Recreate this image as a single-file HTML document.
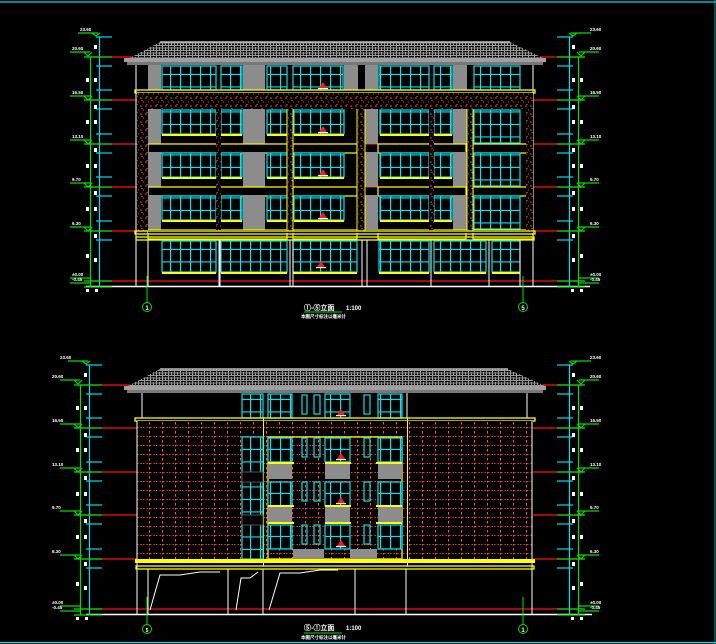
<!DOCTYPE html>
<html><head><meta charset="utf-8"><style>
html,body{margin:0;padding:0;background:#000;}
svg{display:block;}
text{font-family:"Liberation Sans",sans-serif;fill:#fff;font-weight:bold;}
</style></head><body>
<svg width="716" height="644" viewBox="0 0 716 644" xmlns="http://www.w3.org/2000/svg">
<defs>
<pattern id="tile" width="6" height="5" patternUnits="userSpaceOnUse">
<rect width="6" height="5" fill="#000"/>
<path d="M0 0.5H6M0.5 0V5M3.5 2V5M0 3H6" stroke="#9a9a9a" stroke-width="1"/>
</pattern>
<pattern id="brick" width="10" height="8" patternUnits="userSpaceOnUse">
<rect width="10" height="8" fill="#000"/>
<path d="M0 2H2M5 2H7M3 6H4M8 6H9" stroke="#ff3a1a" stroke-width="1"/>
<path d="M2 4V5M7 0V1" stroke="#ff8030" stroke-width="1"/>
</pattern>
<pattern id="grid" width="13" height="9" patternUnits="userSpaceOnUse">
<rect width="13" height="9" fill="#000"/>
<path d="M0 4.5H13" stroke="#ff3010" stroke-width="1" stroke-dasharray="1.5 2"/>
<path d="M6.5 0V9" stroke="#ff5a20" stroke-width="1" stroke-dasharray="1.5 2.5"/>
</pattern>
<pattern id="win" width="10" height="12.5" patternUnits="userSpaceOnUse">
<rect width="10" height="12.5" fill="#000"/>
<path d="M0.5 0V12.5M0 12H10" stroke="#00e6f0" stroke-width="1.3"/>
</pattern>
<g id="tri"><path d="M-4 2L0 -4L4 2Z" fill="#ff1a1a"/><rect x="-5" y="2" width="10" height="1.2" fill="#fff"/></g>
<g id="dim">
<line x1="90.5" y1="57" x2="90.5" y2="287" stroke="#00e000" stroke-width="1.2"/>
<line x1="99.5" y1="37" x2="99.5" y2="287" stroke="#00e0f0" stroke-width="1.2"/>
<g stroke="#00e0f0" stroke-width="1.2">
<line x1="96" y1="37" x2="112" y2="37"/><line x1="96" y1="66" x2="112" y2="66"/>
<line x1="96" y1="90" x2="112" y2="90"/><line x1="96" y1="109" x2="112" y2="109"/>
<line x1="96" y1="134" x2="112" y2="134"/><line x1="96" y1="153" x2="112" y2="153"/>
<line x1="96" y1="177" x2="112" y2="177"/><line x1="96" y1="196" x2="112" y2="196"/>
<line x1="96" y1="221" x2="112" y2="221"/><line x1="96" y1="240" x2="112" y2="240"/>
</g>
<g stroke="#00e000" stroke-width="1.2" fill="none">
<path d="M78 33H98M92 33l4 3l4-3"/>
<path d="M70 52H90M84 52l4 4l4-4"/><line x1="84" y1="57" x2="112" y2="57"/>
<path d="M70 96H90M84 96l4 4l4-4"/><line x1="84" y1="100" x2="112" y2="100"/>
<path d="M70 140H90M84 140l4 4l4-4"/><line x1="84" y1="144" x2="112" y2="144"/>
<path d="M70 183H90M84 183l4 4l4-4"/><line x1="84" y1="187" x2="112" y2="187"/>
<path d="M70 227H90M84 227l4 4l4-4"/><line x1="84" y1="231" x2="112" y2="231"/>
<path d="M70 278H90M70 283H90"/><line x1="84" y1="281" x2="112" y2="281"/><line x1="84" y1="287" x2="112" y2="287"/>
</g>
<g fill="#fff">
<rect x="94" y="45" width="3" height="4"/><rect x="86" y="78" width="3" height="4"/><rect x="94" y="78" width="3" height="4"/>
<rect x="94" y="105" width="3" height="4"/><rect x="86" y="120" width="3" height="4"/><rect x="94" y="120" width="3" height="4"/>
<rect x="94" y="148" width="3" height="4"/><rect x="86" y="164" width="3" height="4"/><rect x="94" y="164" width="3" height="4"/>
<rect x="94" y="191" width="3" height="4"/><rect x="86" y="207" width="3" height="4"/><rect x="94" y="207" width="3" height="4"/>
<rect x="94" y="234" width="3" height="4"/><rect x="86" y="254" width="3" height="4"/><rect x="94" y="258" width="3" height="4"/>
<rect x="86" y="289" width="3" height="3"/><rect x="95" y="289" width="3" height="3"/>
</g>
</g>
</defs>

<rect width="716" height="644" fill="#000"/>
<line x1="0" y1="2" x2="716" y2="2" stroke="#00e0f0" stroke-width="1.3"/>
<line x1="0" y1="642.5" x2="716" y2="642.5" stroke="#00e0f0" stroke-width="1.3"/>
<line x1="715" y1="0" x2="715" y2="644" stroke="#00b8c8" stroke-width="0.8"/>

<!-- ================= TOP ELEVATION ================= -->
<g stroke="#ff1010" stroke-width="1.2">
<line x1="90" y1="57" x2="584" y2="57"/>
<line x1="90" y1="100" x2="584" y2="100"/>
<line x1="90" y1="144" x2="584" y2="144"/>
<line x1="90" y1="187" x2="584" y2="187"/>
<line x1="90" y1="231" x2="584" y2="231"/>
<line x1="90" y1="281" x2="584" y2="281"/>
</g>
<path d="M160 42H510L545 59H128Z" fill="url(#tile)"/>
<path d="M160 42H510" stroke="#bbb" stroke-width="1.5"/>
<rect x="124" y="58" width="422" height="4" fill="#a0a0a0"/>
<rect x="127" y="62" width="416" height="3" fill="#777"/>
<line x1="136" y1="65" x2="136" y2="286" stroke="#fff"/>
<line x1="533" y1="65" x2="533" y2="286" stroke="#fff"/>
<g fill="#8c8c8c">
<rect x="148" y="65" width="13" height="25"/><rect x="243" y="65" width="22" height="25"/>
<rect x="344" y="65" width="14" height="25"/><rect x="365" y="65" width="13" height="25"/>
<rect x="453" y="65" width="14" height="25"/>
</g>
<g fill="url(#win)" stroke="#00e6f0" stroke-width="1.2">
<rect x="162" y="66" width="54" height="24"/><rect x="221" y="66" width="21" height="24"/>
<rect x="267" y="66" width="20" height="24"/><rect x="293" y="66" width="50" height="24"/>
<rect x="379" y="66" width="50" height="24"/><rect x="434" y="66" width="18" height="24"/>
<rect x="474" y="66" width="46" height="24"/>
</g>
<use href="#tri" x="323" y="86"/>
<rect x="135" y="90" width="400" height="3" fill="none" stroke="#ffff00" stroke-width="1.3"/>
<rect x="137" y="93" width="396" height="16" fill="url(#brick)"/>
<g id="floorT">
<g fill="#8c8c8c">
<rect x="148" y="109" width="13" height="35"/><rect x="243" y="109" width="22" height="35"/>
<rect x="365" y="109" width="13" height="35"/><rect x="453" y="109" width="14" height="35"/>
</g>
<g fill="url(#win)" stroke="#00e6f0" stroke-width="1.2">
<rect x="162" y="110" width="54" height="24"/><rect x="221" y="110" width="21" height="24"/>
<rect x="267" y="110" width="20" height="24"/><rect x="294" y="110" width="50" height="24"/>
<rect x="380" y="110" width="49" height="24"/><rect x="434" y="110" width="18" height="24"/>
<rect x="474" y="110" width="46" height="33"/>
</g>
<g fill="#ffff00">
<rect x="162" y="134" width="54" height="2"/><rect x="221" y="134" width="21" height="2"/>
<rect x="267" y="134" width="20" height="2"/><rect x="294" y="134" width="50" height="2"/>
<rect x="380" y="134" width="49" height="2"/><rect x="434" y="134" width="18" height="2"/>
</g>
<g fill="#000" stroke="#ffff00" stroke-width="1.2">
<rect x="148" y="144" width="139" height="9"/><rect x="293" y="144" width="64" height="9"/>
<rect x="378" y="144" width="88" height="9"/><rect x="473" y="144" width="60" height="9"/>
</g>
<use href="#tri" x="323" y="130"/>
</g>
<use href="#floorT" y="43"/>
<use href="#floorT" y="86"/>
<rect x="148" y="230" width="385" height="3" fill="#000"/>
<g fill="url(#brick)">
<rect x="137" y="109" width="11" height="122"/><rect x="216" y="109" width="5" height="122"/>
<rect x="287" y="109" width="6" height="122"/><rect x="357" y="109" width="8" height="122"/>
<rect x="429" y="109" width="5" height="122"/><rect x="467" y="109" width="6" height="122"/>
<rect x="526" y="109" width="7" height="122"/>
</g>
<g stroke="#ffff00" stroke-width="1" fill="none">
<line x1="287" y1="109" x2="287" y2="231"/><line x1="293" y1="109" x2="293" y2="231"/>
<line x1="357" y1="109" x2="357" y2="231"/><line x1="365" y1="109" x2="365" y2="231"/>
<line x1="467" y1="109" x2="467" y2="231"/><line x1="473" y1="109" x2="473" y2="231"/>
</g>
<rect x="135" y="231" width="400" height="3" fill="none" stroke="#ffff00" stroke-width="1.3"/>
<rect x="136" y="237" width="398" height="3" fill="none" stroke="#ffff00" stroke-width="1.3"/>
<g fill="url(#win)" stroke="#00e6f0" stroke-width="1.2">
<rect x="162" y="241" width="54" height="31"/><rect x="221" y="241" width="66" height="31"/>
<rect x="293" y="241" width="64" height="31"/><rect x="379" y="241" width="50" height="31"/>
<rect x="434" y="241" width="52" height="31"/><rect x="492" y="241" width="28" height="31"/>
</g>
<g fill="#ffff00">
<rect x="162" y="272" width="54" height="2"/><rect x="221" y="272" width="66" height="2"/>
<rect x="293" y="272" width="64" height="2"/><rect x="379" y="272" width="50" height="2"/>
<rect x="434" y="272" width="52" height="2"/><rect x="492" y="272" width="28" height="2"/>
</g>
<use href="#tri" x="321" y="265"/>
<g stroke="#fff" stroke-width="1">
<line x1="148" y1="240" x2="148" y2="286"/><line x1="219" y1="240" x2="219" y2="286"/>
<line x1="220" y1="240" x2="220" y2="286"/><line x1="290" y1="240" x2="290" y2="286"/>
<line x1="293" y1="240" x2="293" y2="286"/><line x1="362" y1="240" x2="362" y2="286"/>
<line x1="367" y1="240" x2="367" y2="286"/><line x1="431" y1="240" x2="431" y2="286"/>
<line x1="489" y1="240" x2="489" y2="286"/><line x1="520" y1="240" x2="520" y2="286"/>
</g>
<line x1="86" y1="286.5" x2="590" y2="286.5" stroke="#fff" stroke-width="1.5"/>
<line x1="147" y1="276" x2="147" y2="302" stroke="#00e000"/>
<circle cx="147" cy="307" r="4.5" fill="none" stroke="#00e000"/>
<text x="147" y="310" font-size="6" text-anchor="middle">1</text>
<line x1="523" y1="276" x2="523" y2="302" stroke="#00e000"/>
<circle cx="523" cy="307" r="4.5" fill="none" stroke="#00e000"/>
<text x="523" y="310" font-size="6" text-anchor="middle">5</text>
<text x="304" y="310" font-size="7">①-⑤立面</text>
<text x="346" y="310" font-size="6">1:100</text>
<line x1="304" y1="312" x2="342" y2="312" stroke="#00e000"/>
<text x="301" y="318" font-size="4.5">本图尺寸标注以毫米计</text>

<use href="#dim"/>
<use href="#dim" transform="translate(669 0) scale(-1 1)"/>
<g font-size="4.5">
<text x="80" y="31">23.60</text><text x="72" y="50">20.60</text><text x="72" y="94">16.50</text>
<text x="72" y="138">13.10</text><text x="72" y="181">9.70</text><text x="72" y="225">6.30</text>
<text x="72" y="276">±0.00</text><text x="72" y="281">-0.45</text>
<text x="590" y="31">23.60</text><text x="590" y="50">20.60</text><text x="590" y="94">16.50</text>
<text x="590" y="138">13.10</text><text x="590" y="181">9.70</text><text x="590" y="225">6.30</text><text x="590" y="276">±0.00</text><text x="590" y="281">-0.45</text></g>

<!-- ================= BOTTOM ELEVATION ================= -->
<g stroke="#ff1010" stroke-width="1.2">
<line x1="80" y1="385" x2="584" y2="385"/>
<line x1="80" y1="428" x2="584" y2="428"/>
<line x1="80" y1="472" x2="584" y2="472"/>
<line x1="80" y1="515" x2="584" y2="515"/>
<line x1="80" y1="559" x2="584" y2="559"/>
<line x1="80" y1="609" x2="584" y2="609"/>
</g>
<path d="M160 369H508L545 386H128Z" fill="url(#tile)"/>
<path d="M160 369H508" stroke="#bbb" stroke-width="1.5"/>
<rect x="124" y="386" width="422" height="4" fill="#a0a0a0"/>
<rect x="127" y="390" width="416" height="3" fill="#777"/>
<line x1="142" y1="393" x2="142" y2="418" stroke="#fff"/>
<line x1="407" y1="393" x2="407" y2="418" stroke="#fff"/>
<line x1="527" y1="393" x2="527" y2="418" stroke="#fff"/>
<g fill="url(#win)" stroke="#00e6f0" stroke-width="1.2">
<rect x="242" y="394" width="21" height="24"/><rect x="268" y="394" width="24" height="24"/>
<rect x="325" y="394" width="25" height="24"/><rect x="378" y="394" width="24" height="24"/>
</g>
<g fill="none" stroke="#00e6f0" stroke-width="1.2">
<rect x="302" y="395" width="5" height="19"/><rect x="314" y="395" width="6" height="19"/>
<rect x="364" y="395" width="6" height="19"/>
</g>
<use href="#tri" x="341" y="413"/>
<rect x="135" y="418" width="400" height="3" fill="none" stroke="#ffff00" stroke-width="1.3"/>
<rect x="137" y="421" width="396" height="138" fill="url(#grid)"/>
<line x1="137" y1="421" x2="137" y2="614" stroke="#fff"/>
<line x1="532" y1="421" x2="532" y2="614" stroke="#fff"/>
<line x1="263.5" y1="418" x2="263.5" y2="566" stroke="#ffff00"/>
<line x1="407.5" y1="418" x2="407.5" y2="566" stroke="#ffff00"/>
<rect x="242" y="437" width="21" height="122" fill="url(#win)" stroke="#00e6f0" stroke-width="1.2"/>
<rect x="242" y="472" width="21" height="10" fill="#000" stroke="#555"/>
<rect x="242" y="515" width="21" height="10" fill="#000" stroke="#555"/>
<rect x="268" y="437" width="134" height="122" fill="none" stroke="#ffff00" stroke-width="1.3"/>
<g id="rowB">
<g fill="url(#win)" stroke="#00e6f0" stroke-width="1.2">
<rect x="268" y="438" width="24" height="24"/><rect x="325" y="438" width="25" height="24"/><rect x="378" y="438" width="24" height="24"/>
</g>
<g fill="none" stroke="#00e6f0" stroke-width="1.2">
<rect x="302" y="438" width="5" height="19"/><rect x="314" y="438" width="6" height="19"/><rect x="364" y="438" width="6" height="19"/>
</g>
<use href="#tri" x="341" y="457"/>
</g>
<use href="#rowB" y="44"/>
<use href="#rowB" y="87"/>
<g fill="#8c8c8c">
<rect x="268" y="463" width="24" height="16"/><rect x="325" y="463" width="25" height="16"/><rect x="378" y="463" width="24" height="16"/>
<rect x="268" y="507" width="24" height="15"/><rect x="325" y="507" width="25" height="15"/><rect x="378" y="507" width="24" height="15"/>
<rect x="293" y="549" width="31" height="10"/><rect x="350" y="549" width="27" height="10"/>
</g>
<g fill="#ffff00">
<rect x="268" y="462" width="26" height="2"/><rect x="325" y="462" width="26" height="2"/><rect x="376" y="462" width="26" height="2"/>
<rect x="268" y="505" width="26" height="2"/><rect x="325" y="505" width="26" height="2"/><rect x="376" y="505" width="26" height="2"/>
<rect x="268" y="522" width="26" height="2"/><rect x="325" y="522" width="26" height="2"/><rect x="376" y="522" width="26" height="2"/>
</g>
<rect x="135" y="559" width="400" height="4" fill="#ffff00"/>
<rect x="136" y="566" width="398" height="3" fill="none" stroke="#ffff00" stroke-width="1.3"/>
<g stroke="#fff" stroke-width="1" fill="none">
<line x1="148" y1="569" x2="148" y2="614"/><line x1="228" y1="569" x2="228" y2="614"/>
<line x1="263" y1="569" x2="263" y2="614"/><line x1="355" y1="569" x2="355" y2="614"/>
<line x1="406" y1="569" x2="406" y2="614"/>
<path d="M150 610L160 575H180L200 572H220"/>
<path d="M236 610L241 578H250L258 572"/>
<path d="M269 610L280 573H300L320 570H338"/>
</g>
<line x1="86" y1="614.5" x2="592" y2="614.5" stroke="#fff" stroke-width="1.5"/>
<line x1="147" y1="597" x2="147" y2="624" stroke="#00e000"/>
<circle cx="147" cy="629" r="4.5" fill="none" stroke="#00e000"/>
<text x="147" y="632" font-size="5" text-anchor="middle">5</text>
<line x1="523" y1="597" x2="523" y2="624" stroke="#00e000"/>
<circle cx="523" cy="629" r="4.5" fill="none" stroke="#00e000"/>
<text x="523" y="632" font-size="6" text-anchor="middle">1</text>
<text x="304" y="630" font-size="7">⑤-①立面</text>
<text x="346" y="630" font-size="6">1:100</text>
<line x1="304" y1="633" x2="342" y2="633" stroke="#00e000"/>
<text x="301" y="639" font-size="4.5">本图尺寸标注以毫米计</text>

<use href="#dim" transform="translate(-10 328)"/>
<use href="#dim" transform="translate(669 328) scale(-1 1)"/>
<g font-size="4.5">
<text x="60" y="359">23.60</text><text x="52" y="378">20.60</text><text x="52" y="422">16.50</text>
<text x="52" y="466">13.10</text><text x="52" y="509">9.70</text><text x="52" y="553">6.30</text><text x="52" y="604">±0.00</text><text x="52" y="609">-0.45</text>
<text x="590" y="359">23.60</text><text x="590" y="378">20.60</text><text x="590" y="422">16.50</text>
<text x="590" y="466">13.10</text><text x="590" y="509">9.70</text><text x="590" y="553">6.30</text><text x="590" y="604">±0.00</text><text x="590" y="609">-0.45</text></g>
</svg>
</body></html>
